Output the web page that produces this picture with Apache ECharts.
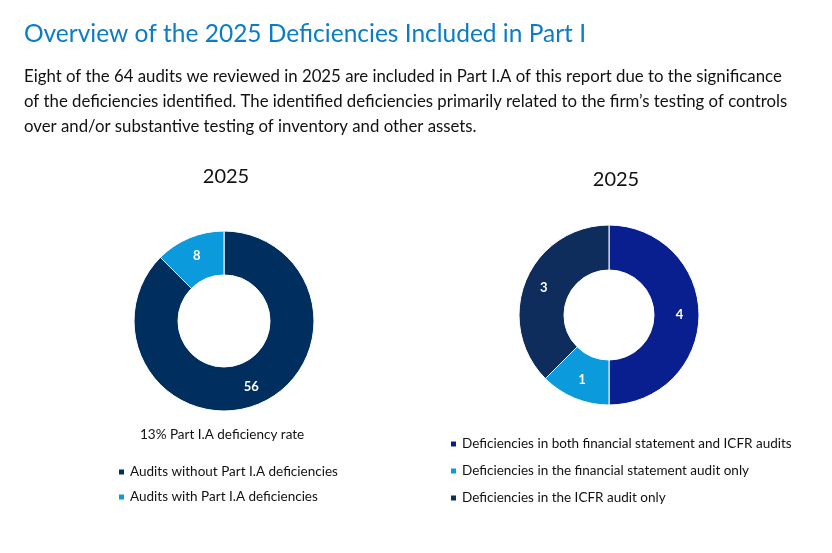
<!DOCTYPE html>
<html><head><meta charset="utf-8">
<script src="https://cdn.jsdelivr.net/npm/echarts@6/dist/echarts.min.js"></script>
<style>html,body{margin:0;padding:0;background:#fff}#c{width:832px;height:553px}</style>
</head><body><div id="c"></div>
<script>
const title = 'Overview of the 2025 Deficiencies Included in Part I';
const paragraph = ['Eight of the 64 audits we reviewed in 2025 are included in Part I.A of this report due to the significance',
 'of the deficiencies identified. The identified deficiencies primarily related to the firm\u2019s testing of controls',
 'over and/or substantive testing of inventory and other assets.'];
const leftCategories = ['Audits without Part I.A deficiencies', 'Audits with Part I.A deficiencies'];
const leftValues = [56, 8];
const rightCategories = ['Deficiencies in both financial statement and ICFR audits', 'Deficiencies in the financial statement audit only', 'Deficiencies in the ICFR audit only'];
const rightValues = [4, 1, 3];
const rateText = '13% Part I.A deficiency rate';
const font = 'Lato, "Open Sans", sans-serif';
const navy = '#002F5F', light = '#0B9ADB', royal = '#0A1F8F', navy2 = '#0F2D5C';
const chart = echarts.init(document.getElementById('c'));
const lbl = {show:true, position:'inside', color:'#fff', fontSize:13, fontWeight:'bold', fontFamily:font, formatter:'{c}'};
chart.setOption({
  animation:false,
  graphic:[
    {type:'text', left:24, top:22, style:{text:title, fill:'#0A7CC8', fontSize:24.5, fontFamily:font}},
    {type:'text', left:24, top:64, style:{text:paragraph.join('\n'), fill:'#111', fontSize:16.8, lineHeight:25, fontFamily:font}},
    {type:'text', left:140, top:428, style:{text:rateText, fill:'#111', fontSize:13.5, fontFamily:font}}
  ],
  title:[
    {text:'2025', left:221, top:162, textAlign:'center', textStyle:{fontSize:20, fontWeight:'normal', color:'#111', fontFamily:font}},
    {text:'2025', left:611, top:165, textAlign:'center', textStyle:{fontSize:20, fontWeight:'normal', color:'#111', fontFamily:font}}
  ],
  legend:[
    {data:leftCategories, orient:'vertical', left:112, top:460, itemGap:11, icon:'rect', itemWidth:7, itemHeight:7,
     textStyle:{fontSize:13.5, color:'#111', fontFamily:font}},
    {data:rightCategories, orient:'vertical', left:444, top:432, itemGap:13, icon:'rect', itemWidth:7, itemHeight:7,
     textStyle:{fontSize:13.5, color:'#111', fontFamily:font}}
  ],
  series:[
    {type:'pie', center:[224,321], radius:[46,90], startAngle:90, label:lbl, labelLine:{show:false},
     itemStyle:{borderColor:'#fff', borderWidth:1},
     data:leftCategories.map((n,i)=>({name:n, value:leftValues[i], itemStyle:{color:[navy,light][i]}}))},
    {type:'pie', center:[609,315], radius:[45,90], startAngle:90, label:lbl, labelLine:{show:false},
     itemStyle:{borderColor:'#fff', borderWidth:1},
     data:rightCategories.map((n,i)=>({name:n, value:rightValues[i], itemStyle:{color:[royal,light,navy2][i]}}))}
  ]
});
</script></body></html>
